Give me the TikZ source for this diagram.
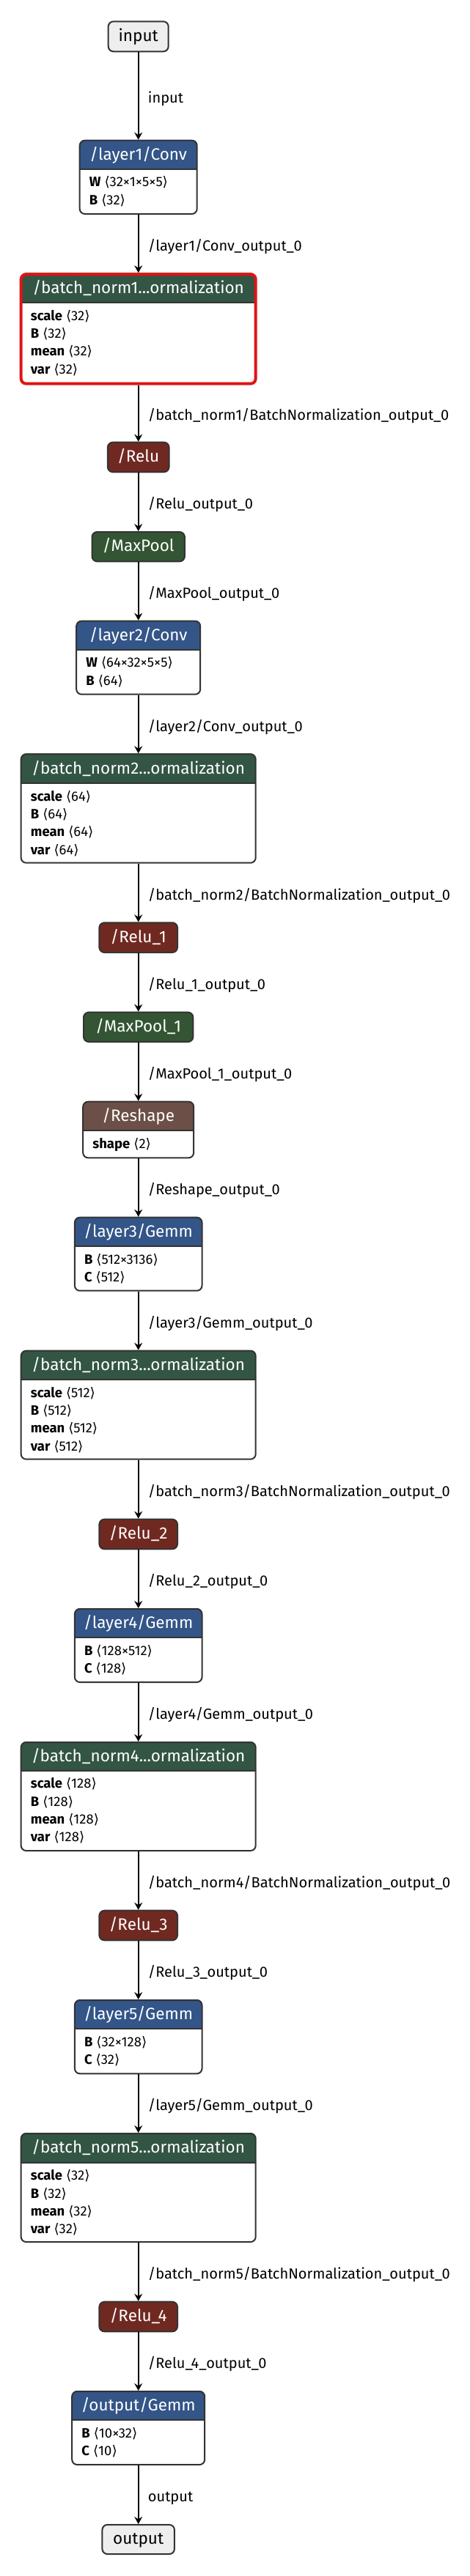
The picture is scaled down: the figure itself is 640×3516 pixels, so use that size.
\documentclass[tikz,border=0pt]{standalone}
\usepackage{fontspec}
\setmainfont{Fira Sans}
\newfontfamily\brkfont{DejaVu Sans}
\usetikzlibrary{arrows.meta,calc}
\newcommand\br[1]{{\brkfont\symbol{"27E8}}#1{\brkfont\symbol{"27E9}}}
\definecolor{convc}{HTML}{335588}
\definecolor{normc}{HTML}{335544}
\definecolor{actc}{HTML}{702921}
\definecolor{poolc}{HTML}{335533}
\definecolor{shapec}{HTML}{6C4F47}
\definecolor{ioc}{HTML}{EEEEEE}
\definecolor{bordc}{HTML}{333333}
\definecolor{selc}{HTML}{E01414}
\newlength\calw
\tikzset{
  box/.style={rectangle, draw=bordc, line width=2pt, rounded corners=7pt, inner sep=0pt},
  title/.style={anchor=base, inner sep=0pt, text=white, font=\fontsize{\hdsize}{26}\selectfont},
  attr/.style={anchor=base west, inner sep=0pt, font=\fontsize{\atsize}{22}\selectfont},
  edge/.style={draw=black, line width=1.8pt, -{Stealth[length=10pt,width=11pt,inset=3.5pt]}},
  elabel/.style={anchor=base west, inner sep=0pt, xshift=12.3pt, yshift=-9.7pt, font=\fontsize{\elsize}{24}\selectfont},
}
\newcommand\opnode[8]{%
 \pgfmathsetmacro\nL{188.7-#2/2}\pgfmathsetmacro\nR{188.7+#2/2}%
 \begin{scope}
  \clip[rounded corners=7pt] (\nL,#3) rectangle (\nR,#5);
  \fill[white] (\nL,#3) rectangle (\nR,#5);
  \fill[#6] (\nL,#3) rectangle (\nR,#4);
 \end{scope}
 \draw[bordc, line width=2pt] (\nL,#4) -- (\nR,#4);
 \node[box, minimum width=#2pt, minimum height={(#5-#3)*1pt}, anchor=north, #8] (#1) at (188.7,#3) {};
 \node[title] at (188.7,{(#3+#4)/2+7.5}) {#7};
}
\newcommand\attrs[3]{%
 \foreach \r [count=\i from 0] in {#3} {\node[attr] at ({188.7-#1/2+13},{#2+24.2+24.2*\i}) {\r};}%
}
\newcommand\simplenode[7]{%
 \node[box, fill=#5, minimum width=#2pt, minimum height={(#4-#3)*1pt}, anchor=north] (#1) at (188.7,#3) {};
 \node[title, text=#7] at (188.7,{(#3+#4)/2+7.5}) {#6};
}
\newcommand\an[2]{\textbf{#1}\hspace{5pt}\br{#2}}
\begin{document}
% calibrate font sizes to the reference text widths
\settowidth\calw{\fontsize{10}{12}\selectfont /batch\_norm1...ormalization}%
\pgfmathsetmacro\hdsize{10*288.4/\calw}%
\settowidth\calw{\fontsize{10}{12}\selectfont /batch\_norm1/BatchNormalization\_output\_0}%
\pgfmathsetmacro\elsize{10*410.3/\calw}%
\settowidth\calw{\fontsize{10}{12}\selectfont\bfseries scale}%
\pgfmathsetmacro\atsize{10*43.1/\calw}%
\begin{tikzpicture}[x=1pt,y=-1pt]
\fill[white] (0,0) rectangle (640,3516);
\useasboundingbox (0,0) rectangle (640,3516);
% nodes
\simplenode{input}{82}{28.3}{69.3}{ioc}{input}{black}
\opnode{layer1}{160}{190.7}{230.7}{291}{convc}{/layer1/Conv}{}
\attrs{160}{230.7}{{\an{W}{32×1×5×5}},{\an{B}{32}}}
\opnode{bn1}{320}{372.3}{413.3}{521.7}{normc}{/batch\_norm1...ormalization}{draw=selc,line width=4pt}
\attrs{320}{413.3}{{\an{scale}{32}},{\an{B}{32}},{\an{mean}{32}},{\an{var}{32}}}
\simplenode{relu}{83.7}{602.7}{643.3}{actc}{/Relu}{white}
\simplenode{maxpool}{126.4}{725}{765.3}{poolc}{/MaxPool}{white}
\opnode{layer2}{169}{846.7}{886.7}{946.7}{convc}{/layer2/Conv}{}
\attrs{169}{886.7}{{\an{W}{64×32×5×5}},{\an{B}{64}}}
\opnode{bn2}{320}{1028.3}{1069.3}{1176.7}{normc}{/batch\_norm2...ormalization}{}
\attrs{320}{1069.3}{{\an{scale}{64}},{\an{B}{64}},{\an{mean}{64}},{\an{var}{64}}}
\simplenode{relu1}{106.6}{1258.3}{1299}{actc}{/Relu\_1}{white}
\simplenode{maxpool1}{149.4}{1380.7}{1421}{poolc}{/MaxPool\_1}{white}
\opnode{reshape}{151}{1502.7}{1543.3}{1579.3}{shapec}{/Reshape}{}
\attrs{151}{1543.3}{{\an{shape}{2}}}
\opnode{layer3}{173.6}{1660.7}{1701}{1760.7}{convc}{/layer3/Gemm}{}
\attrs{173.6}{1701}{{\an{B}{512×3136}},{\an{C}{512}}}
\opnode{bn3}{320}{1842.7}{1883.3}{1990.7}{normc}{/batch\_norm3...ormalization}{}
\attrs{320}{1883.3}{{\an{scale}{512}},{\an{B}{512}},{\an{mean}{512}},{\an{var}{512}}}
\simplenode{relu2}{106.6}{2072.7}{2113.3}{actc}{/Relu\_2}{white}
\opnode{layer4}{173.6}{2195}{2235}{2295}{convc}{/layer4/Gemm}{}
\attrs{173.6}{2235}{{\an{B}{128×512}},{\an{C}{128}}}
\opnode{bn4}{320}{2377}{2416.7}{2525}{normc}{/batch\_norm4...ormalization}{}
\attrs{320}{2416.7}{{\an{scale}{128}},{\an{B}{128}},{\an{mean}{128}},{\an{var}{128}}}
\simplenode{relu3}{106.6}{2606.7}{2647.3}{actc}{/Relu\_3}{white}
\opnode{layer5}{173.6}{2729}{2769.3}{2829.3}{convc}{/layer5/Gemm}{}
\attrs{173.6}{2769.3}{{\an{B}{32×128}},{\an{C}{32}}}
\opnode{bn5}{320}{2911}{2951.7}{3059}{normc}{/batch\_norm5...ormalization}{}
\attrs{320}{2951.7}{{\an{scale}{32}},{\an{B}{32}},{\an{mean}{32}},{\an{var}{32}}}
\simplenode{relu4}{106.6}{3140.7}{3181.3}{actc}{/Relu\_4}{white}
\opnode{outgemm}{181}{3263}{3303.3}{3363}{convc}{/output/Gemm}{}
\attrs{181}{3303.3}{{\an{B}{10×32}},{\an{C}{10}}}
\simplenode{output}{98.5}{3445}{3485}{ioc}{output}{black}
% edges
\draw[edge] (input.south) -- node[elabel]{input} (layer1.north);
\draw[edge] (layer1.south) -- node[elabel]{/layer1/Conv\_output\_0} (bn1.north);
\draw[edge] (bn1.south) -- node[elabel]{/batch\_norm1/BatchNormalization\_output\_0} (relu.north);
\draw[edge] (relu.south) -- node[elabel]{/Relu\_output\_0} (maxpool.north);
\draw[edge] (maxpool.south) -- node[elabel]{/MaxPool\_output\_0} (layer2.north);
\draw[edge] (layer2.south) -- node[elabel]{/layer2/Conv\_output\_0} (bn2.north);
\draw[edge] (bn2.south) -- node[elabel]{/batch\_norm2/BatchNormalization\_output\_0} (relu1.north);
\draw[edge] (relu1.south) -- node[elabel]{/Relu\_1\_output\_0} (maxpool1.north);
\draw[edge] (maxpool1.south) -- node[elabel]{/MaxPool\_1\_output\_0} (reshape.north);
\draw[edge] (reshape.south) -- node[elabel]{/Reshape\_output\_0} (layer3.north);
\draw[edge] (layer3.south) -- node[elabel]{/layer3/Gemm\_output\_0} (bn3.north);
\draw[edge] (bn3.south) -- node[elabel]{/batch\_norm3/BatchNormalization\_output\_0} (relu2.north);
\draw[edge] (relu2.south) -- node[elabel]{/Relu\_2\_output\_0} (layer4.north);
\draw[edge] (layer4.south) -- node[elabel]{/layer4/Gemm\_output\_0} (bn4.north);
\draw[edge] (bn4.south) -- node[elabel]{/batch\_norm4/BatchNormalization\_output\_0} (relu3.north);
\draw[edge] (relu3.south) -- node[elabel]{/Relu\_3\_output\_0} (layer5.north);
\draw[edge] (layer5.south) -- node[elabel]{/layer5/Gemm\_output\_0} (bn5.north);
\draw[edge] (bn5.south) -- node[elabel]{/batch\_norm5/BatchNormalization\_output\_0} (relu4.north);
\draw[edge] (relu4.south) -- node[elabel]{/Relu\_4\_output\_0} (outgemm.north);
\draw[edge] (outgemm.south) -- node[elabel]{output} (output.north);
\end{tikzpicture}
\end{document}
